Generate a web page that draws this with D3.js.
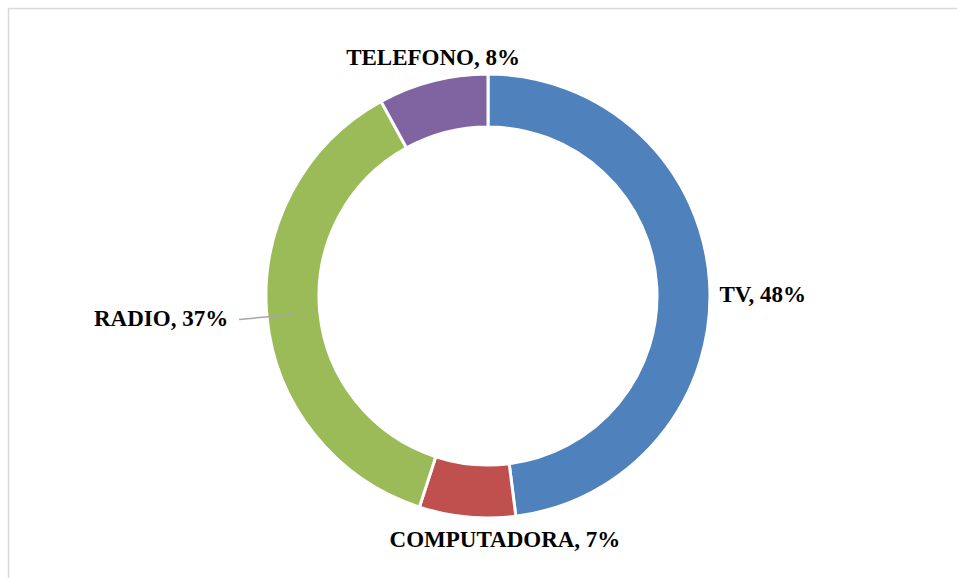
<!DOCTYPE html>
<html lang="en">
<head>
    <meta charset="utf-8">
    <script src='https://d3js.org/d3.v7.min.js'></script>
    <style>
      body { margin: 0; background: #fff; }
    </style>
</head>
<body>
<script>
// data
var categories = ["TV", "COMPUTADORA", "RADIO", "TELEFONO"];
var values = [48, 7, 37, 8];
var colors = ["#4F81BD", "#C0504D", "#9BBB59", "#8064A2"];

const xSize = 957; const ySize = 578;
const cx = 488, cy = 296;
const outerR = 222, innerR = 169;

// label layout per slice: radius, anchor, nudge
var labelRadius = [232, 245, 258, 245];
var labelAnchor = ["start", "middle", "end", "middle"];
var labelNudge = [[0, 13], [40, 0], [-3, -2], [6, -1]];
var hasLeader = [false, false, true, false];

const svg = d3.select("body")
  .append("svg")
  .attr("width", xSize)
  .attr("height", ySize);

// chart frame
svg.append("rect")
  .attr("x", 8.5).attr("y", 8.5)
  .attr("width", xSize).attr("height", ySize)
  .attr("fill", "none")
  .attr("stroke", "#d9d9d9")
  .attr("stroke-width", 1.5);

const g = svg.append("g")
  .attr("transform", "translate(" + cx + "," + cy + ")");

var pie = d3.pie().sort(null);
var arc = d3.arc().innerRadius(innerR).outerRadius(outerR);
var slices = pie(values);

g.selectAll("path.slice")
  .data(slices)
  .enter()
  .append("path")
  .attr("class", "slice")
  .attr("d", arc)
  .attr("fill", function(d, i) { return colors[i]; })
  .attr("stroke", "#fff")
  .attr("stroke-width", 3);

function pointAt(d, r) {
  var a = (d.startAngle + d.endAngle) / 2;
  return [r * Math.sin(a), -r * Math.cos(a)];
}

// leader lines (drawn on top of the ring)
g.selectAll("line.leader")
  .data(slices.filter(function(d, i) { return hasLeader[i]; }))
  .enter()
  .append("line")
  .attr("class", "leader")
  .attr("x1", function(d) { return pointAt(d, (innerR + outerR) / 2)[0]; })
  .attr("y1", function(d) { return pointAt(d, (innerR + outerR) / 2)[1]; })
  .attr("x2", function(d) { return pointAt(d, labelRadius[d.index] - 8)[0]; })
  .attr("y2", function(d) { return pointAt(d, labelRadius[d.index] - 8)[1]; })
  .attr("stroke", "#a6a6a6")
  .attr("stroke-width", 1.5);

// labels
g.selectAll("text.label")
  .data(slices)
  .enter()
  .append("text")
  .attr("class", "label")
  .attr("x", function(d, i) { return pointAt(d, labelRadius[i])[0] + labelNudge[i][0]; })
  .attr("y", function(d, i) { return pointAt(d, labelRadius[i])[1] + labelNudge[i][1]; })
  .attr("text-anchor", function(d, i) { return labelAnchor[i]; })
  .attr("dominant-baseline", "central")
  .style("font-family", "'Liberation Serif', 'DejaVu Serif', serif")
  .style("font-weight", "bold")
  .style("font-size", "23px")
  .attr("fill", "#000")
  .text(function(d, i) { return categories[i] + ", " + values[i] + "%"; });
</script>
</body>
</html>
